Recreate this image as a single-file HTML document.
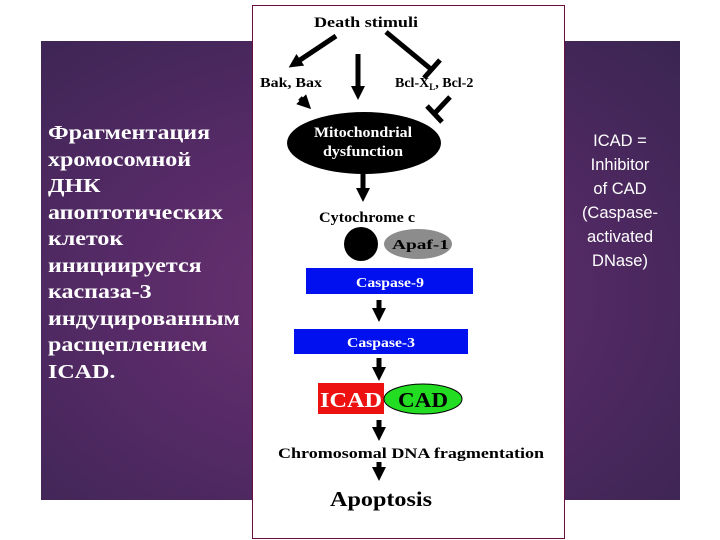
<!DOCTYPE html>
<html><head><meta charset="utf-8"><style>
body{margin:0;width:720px;height:540px;background:#fff;overflow:hidden;position:relative}
.panel{position:absolute;left:41px;top:41px;width:639px;height:459px;background:radial-gradient(ellipse at 45% 55%,#6a3170 0%,#552a66 45%,#3a2552 100%)}
.lt{position:absolute;left:48px;top:120px;color:#fff;font:bold 20px/26.5px "Liberation Serif",serif;transform:scaleX(1.2);transform-origin:0 0}
.rt{position:absolute;left:578px;top:129px;width:84px;text-align:center;color:#fff;font:16.5px/24px "Liberation Sans",sans-serif}
.box{position:absolute;left:252px;top:5px;width:311px;height:532px;background:#fff;border:1.5px solid #6a1040}
svg{position:absolute;left:0;top:0}
text{font-family:"Liberation Serif",serif;font-weight:bold}
</style></head><body>
<div class="panel"></div>
<div class="lt">Фрагментация<br>хромосомной<br>ДНК<br>апоптотических<br>клеток<br>инициируется<br>каспаза-3<br>индуцированным<br>расщеплением<br>ICAD.</div>
<div class="rt">ICAD =<br>Inhibitor<br>of CAD<br>(Caspase-<br>activated<br>DNase)</div>
<div class="box"></div>
<svg width="720" height="540">
<defs><marker id="a" markerWidth="14" markerHeight="14" refX="4" refY="7" orient="auto" markerUnits="userSpaceOnUse"><path d="M0,0 L14,7 L0,14z" fill="#000"/></marker></defs>
<g stroke="#000" stroke-width="5" fill="none">
<line x1="336" y1="36" x2="297" y2="62" marker-end="url(#a)"/>
<line x1="358" y1="54" x2="358" y2="90" marker-end="url(#a)"/>
<line x1="386" y1="32" x2="432" y2="70"/>
<line x1="424" y1="78" x2="440" y2="60"/>
<line x1="300" y1="98" x2="304" y2="102" marker-end="url(#a)"/>
<line x1="450" y1="97" x2="434" y2="114"/>
<line x1="427" y1="106" x2="442" y2="122"/>
<line x1="363" y1="172" x2="363" y2="192" marker-end="url(#a)"/>
<line x1="379" y1="300" x2="379" y2="312" marker-end="url(#a)"/>
<line x1="379" y1="358" x2="379" y2="371" marker-end="url(#a)"/>
<line x1="379" y1="420" x2="379" y2="431" marker-end="url(#a)"/>
<line x1="379" y1="462" x2="379" y2="471" marker-end="url(#a)"/>
</g>
<text x="314" y="27" font-size="15" textLength="104" lengthAdjust="spacingAndGlyphs">Death stimuli</text>
<text x="260" y="87" font-size="14" textLength="62" lengthAdjust="spacingAndGlyphs">Bak, Bax</text>
<text x="395" y="87" font-size="14">Bcl-X<tspan font-size="9" dy="3">L</tspan><tspan dy="-3">, Bcl-2</tspan></text>
<ellipse cx="364" cy="143" rx="77" ry="31" fill="#000"/>
<text x="314" y="137" font-size="15" fill="#fff" textLength="98" lengthAdjust="spacingAndGlyphs">Mitochondrial</text>
<text x="323" y="156" font-size="15" fill="#fff" textLength="80" lengthAdjust="spacingAndGlyphs">dysfunction</text>
<text x="319" y="222" font-size="15" textLength="96" lengthAdjust="spacingAndGlyphs">Cytochrome c</text>
<circle cx="361" cy="244" r="17" fill="#000"/>
<ellipse cx="418" cy="244" rx="34" ry="15" fill="#8c8c8c"/>
<text x="392" y="249" font-size="14" textLength="57" lengthAdjust="spacingAndGlyphs">Apaf-1</text>
<rect x="306" y="268" width="167" height="26" fill="#0010ee"/>
<text x="356" y="287" font-size="14" fill="#fff" textLength="68" lengthAdjust="spacingAndGlyphs">Caspase-9</text>
<rect x="294" y="329" width="174" height="25" fill="#0010ee"/>
<text x="347" y="347" font-size="14" fill="#fff" textLength="68" lengthAdjust="spacingAndGlyphs">Caspase-3</text>
<rect x="318" y="383" width="66" height="31" fill="#ee1111"/>
<text x="320" y="407" font-size="21" fill="#fff" textLength="62" lengthAdjust="spacingAndGlyphs">ICAD</text>
<ellipse cx="423" cy="399" rx="39" ry="15" fill="#22dd22" stroke="#000" stroke-width="1"/>
<text x="398" y="407" font-size="21" textLength="50" lengthAdjust="spacingAndGlyphs">CAD</text>
<text x="278" y="458" font-size="15" textLength="266" lengthAdjust="spacingAndGlyphs">Chromosomal DNA fragmentation</text>
<text x="330" y="506" font-size="21" textLength="102" lengthAdjust="spacingAndGlyphs">Apoptosis</text>
</svg>
</body></html>
